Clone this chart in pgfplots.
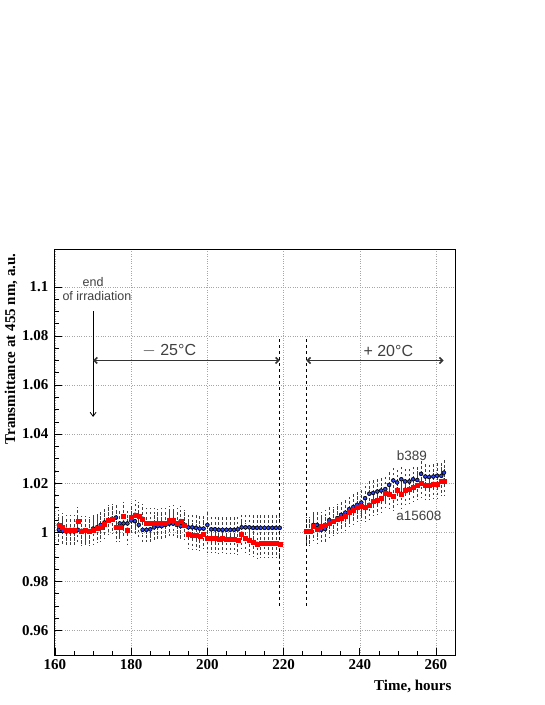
\documentclass[border=0pt]{standalone}
\usepackage{pgfplots}
\pgfplotsset{compat=1.18}
\usepackage{pgfplotstable}
\usepackage{fontspec}
\setmainfont{Liberation Serif}
\newfontfamily\rootsans{Liberation Sans}
\usetikzlibrary{arrows.meta}
\definecolor{rootblue}{RGB}{45,70,255}

% sample b389 (blue)
\pgfplotstableread{
x y
161 1.0010
162 1.0005
163 1.0003
164 1.0003
165 1.0003
166 1.0010
167 1.0005
168 1.0005
169 1.0005
170 1.0015
171 1.0020
172 1.0030
173 1.0040
174 1.0050
175 1.0055
176 1.0060
177 1.0036
178 1.0036
179 1.0036
180 1.0048
181 1.0045
182 1.0030
183 1.0010
184 1.0010
185 1.0012
186 1.0020
187 1.0025
188 1.0025
189 1.0030
190 1.0035
191 1.0035
192 1.0030
193 1.0025
194 1.0030
195 1.0020
196 1.0020
197 1.0018
198 1.0015
199 1.0015
200 1.0030
201 1.0012
202 1.0012
203 1.0010
204 1.0010
205 1.0010
206 1.0010
207 1.0010
208 1.0012
209 1.0020
210 1.0020
211 1.0020
212 1.0018
213 1.0018
214 1.0018
215 1.0018
216 1.0018
217 1.0018
218 1.0018
219 1.0018
225.9 1.0003
226.9 1.0003
227.8 1.0030
228.8 1.0030
229.9 1.0010
230.9 1.0013
232.0 1.0050
233.0 1.0044
234.1 1.0058
235.1 1.0071
236.2 1.0080
237.2 1.0094
238.3 1.0103
239.3 1.0112
240.4 1.0121
241.4 1.0139
242.5 1.0157
243.5 1.0160
244.6 1.0166
245.6 1.0170
246.7 1.0176
247.7 1.0193
248.8 1.0211
249.8 1.0203
250.9 1.0216
251.9 1.0207
253.0 1.0207
254.0 1.0216
255.1 1.0213
256.1 1.0238
257.2 1.0227
258.2 1.0225
259.3 1.0227
260.3 1.0230
261.4 1.0230
262.1 1.0243
}\blue

% sample a15608 (red)
\pgfplotstableread{
x y
161 1.0030
162 1.0020
163 1.0010
164 1.0010
165 1.0010
166 1.0044
167 1.0006
168 1.0007
169 1.0003
170 1.0010
171 1.0015
172 1.0020
173 1.0033
174 1.0050
175 1.0054
176 1.0020
177 1.0020
178 1.0064
179 1.0010
180 1.0060
181 1.0071
182 1.0064
183 1.0055
184 1.0037
185 1.0037
186 1.0037
187 1.0035
188 1.0037
189 1.0037
190 1.0048
191 1.0050
192 1.0037
193 1.0046
194 1.0030
195 0.9994
196 0.9990
197 0.9987
198 0.9983
199 0.9992
200 0.9976
201 0.9974
202 0.9974
203 0.9973
204 0.9974
205 0.9972
206 0.9973
207 0.9972
208 0.9967
209 0.9994
210 0.9976
211 0.9966
212 0.9958
213 0.9953
214 0.9955
215 0.9956
216 0.9955
217 0.9955
218 0.9954
219 0.9952
225.9 1.0003
226.9 1.0003
227.8 1.0024
228.8 1.0013
229.9 1.0024
230.9 1.0030
232.0 1.0037
233.0 1.0044
234.1 1.0054
235.1 1.0058
236.2 1.0067
237.2 1.0080
238.3 1.0091
239.3 1.0102
240.4 1.0105
241.4 1.0102
242.5 1.0112
243.5 1.0125
244.6 1.0130
245.6 1.0139
246.7 1.0160
247.7 1.0157
248.8 1.0146
249.8 1.0173
250.9 1.0157
251.9 1.0173
253.0 1.0176
254.0 1.0184
255.1 1.0190
256.1 1.0200
257.2 1.0193
258.2 1.0190
259.3 1.0197
260.3 1.0197
261.4 1.0207
262.1 1.0210
}\red

\begin{document}
\begin{tikzpicture}
\path[use as bounding box] (0,0) rectangle (545pt,705pt);
\begin{axis}[
    at={(55pt,50pt)}, anchor=south west,
    scale only axis, width=400pt, height=405pt,
    xmin=160, xmax=265, ymin=0.95, ymax=1.115,
    xtick={160,180,...,260},
    ytick={0.96,0.98,1,1.02,1.04,1.06,1.08,1.1},
    yticklabels={0.96,0.98,1,1.02,1.04,1.06,1.08,1.1},
    minor tick num=3,
    tick pos=left, tick align=inside,
    major tick length=7pt, minor tick length=4pt,
    tick style={black, line width=0.6pt},
    axis line style={line width=1pt},
    grid=major, grid style={dotted, gray!70, line width=0.5pt},
    ticklabel style={font=\fontsize{15}{15}\selectfont\bfseries},
    yticklabel style={xshift=-3pt},
    xticklabel style={yshift=-1pt},
    /pgf/number format/assume math mode=true,
    xlabel={\fontsize{15}{15}\selectfont\bfseries Time, hours},
    ylabel={\fontsize{15}{15}\selectfont\bfseries Transmittance at 455 nm, a.u.},
    xlabel style={at={(1,0)}, anchor=north east, yshift=-22pt},
    ylabel style={at={(0,1)}, anchor=south east, yshift=34pt},
    clip=false,
]
% error bars first
\addplot[only marks, mark=none, error bars/.cd, y dir=both, y fixed=0.006,
    error mark=none, error bar style={black!75, line width=0.8pt, dash pattern=on 2.5pt off 2.5pt}]
    table[x=x, y=y] {\blue};
\addplot[only marks, mark=none, error bars/.cd, y dir=both, y fixed=0.006,
    error mark=none, error bar style={black!75, line width=0.8pt, dash pattern=on 2.5pt off 2.5pt, dash phase=1.2pt}]
    table[x=x, y=y] {\red};
% points
\addplot[only marks, mark=*, mark size=1.2pt, color=rootblue,
    mark options={draw=none, fill=rootblue}] table[x=x, y=y] {\blue};
\addplot[only marks, mark=square*, mark size=2pt, color=red] table[x=x, y=y] {\red};

% breaks between runs
\draw[dashed, line width=0.6pt] (axis cs:219,0.97) -- (axis cs:219,1.08);
\draw[dashed, line width=0.6pt] (axis cs:226,0.97) -- (axis cs:226,1.08);

% end of irradiation
\draw[line width=0.8pt, -{Straight Barb[length=4pt,width=6pt]}] (axis cs:170,1.09) -- (axis cs:170,1.047);
\node[font=\rootsans\fontsize{12.5}{12.5}\selectfont, text=black!75] at (axis cs:170,1.102) {end};
\node[font=\rootsans\fontsize{12.5}{12.5}\selectfont, text=black!75] at (axis cs:171,1.0963) {of irradiation};

% temperature intervals
\draw[line width=1.6pt, black!80, {Straight Barb[length=3pt,width=6pt]}-{Straight Barb[length=3pt,width=6pt]}]
    (axis cs:170,1.07) -- (axis cs:219,1.07);
\draw[line width=1.6pt, black!80, {Straight Barb[length=3pt,width=6pt]}-{Straight Barb[length=3pt,width=6pt]}]
    (axis cs:226,1.07) -- (axis cs:262,1.07);
\node[font=\rootsans\fontsize{16}{16}\selectfont, text=black!75] at (axis cs:190,1.0738) {$-$ 25\textdegree C};
\node[font=\rootsans\fontsize{16}{16}\selectfont, text=black!75] at (axis cs:247.5,1.0738) {+ 20\textdegree C};

% sample names
\node[font=\rootsans\fontsize{13.5}{13.5}\selectfont, text=black!75] at (axis cs:253.7,1.0313) {b389};
\node[font=\rootsans\fontsize{13.5}{13.5}\selectfont, text=black!75] at (axis cs:255.5,1.0065) {a15608};
\end{axis}
\end{tikzpicture}
\end{document}
